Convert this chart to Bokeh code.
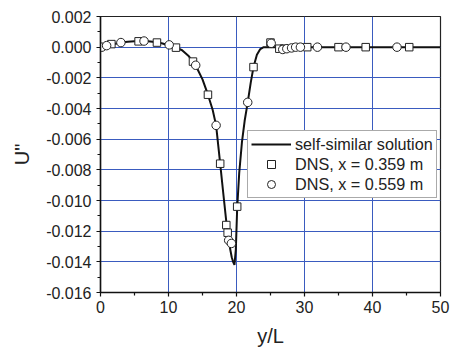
from bokeh.plotting import figure
from bokeh.models import Range1d, NumeralTickFormatter, FixedTicker, Legend, LegendItem
from bokeh.embed import file_html
from bokeh.resources import INLINE

# self-similar solution curve
sol_x = [0, 1, 2, 3, 4, 5, 6, 7, 8, 9, 10, 11, 12, 13, 14, 15, 15.8, 16.5, 17.0, 17.6, 18.0, 18.6,
         19.0, 19.3, 19.5, 19.7, 19.9, 20.1, 20.4, 20.8, 21.2, 21.65, 22.1, 22.5, 23.0, 23.5, 24.0,
         26.0, 30.0, 40.0, 50.0]
sol_y = [0.0, 0.0001, 0.0002, 0.0003, 0.00035, 0.00038, 0.0004, 0.00038, 0.00033, 0.00025, 0.00013,
         0.0, -0.0002, -0.0006, -0.0012, -0.0021, -0.0031, -0.0041, -0.0051, -0.0076, -0.0093, -0.0118,
         -0.0130, -0.0137, -0.0140, -0.0142, -0.0132, -0.0105, -0.0082, -0.0062, -0.0048, -0.0036,
         -0.0023, -0.0013, -0.0005, -0.00012, 0.0, 0.0, 0.0, 0.0, 0.0]

# DNS, x = 0.359 m (squares)
sq_x = [1.6, 5.6, 8.3, 11.1, 13.6, 15.8, 17.6, 18.5, 18.7, 20.1, 22.5, 25.0, 26.3, 27.0, 30.4, 35.0, 39.0, 45.4]
sq_y = [0.0002, 0.00038, 0.0003, -0.00003, -0.00094, -0.0031, -0.0076, -0.0116, -0.0121, -0.0104,
        -0.0013, 0.0003, -0.0001, -0.0001, 0.0, 0.0, 0.0, 0.0]

# DNS, x = 0.559 m (circles)
ci_x = [0.2, 0.9, 3.0, 6.4, 10.1, 14.0, 17.0, 18.85, 19.25, 21.65, 25.1, 26.8, 27.4, 28.1, 28.7, 29.4, 31.9, 36.1, 43.6]
ci_y = [0.0, 0.0001, 0.0003, 0.0004, 0.00015, -0.00118, -0.0051, -0.0126, -0.0128, -0.0036, 0.00025,
        -0.00015, -0.0001, -0.00005, 0.0, 0.0, 0.0, 0.0, 0.0]

x_ticks = [0, 10, 20, 30, 40, 50]
y_ticks = [0.002, 0.0, -0.002, -0.004, -0.006, -0.008, -0.010, -0.012, -0.014, -0.016]

FONT = "Liberation Sans"
GRID = "#3a5bbf"

p = figure(width=451, height=354, output_backend="svg", toolbar_location=None,
           x_range=Range1d(0, 50), y_range=Range1d(-0.016, 0.002),
           min_border_left=100, min_border_right=11, min_border_top=16, min_border_bottom=62)
p.background_fill_color = "white"
p.border_fill_color = "white"
p.outline_line_color = "#222222"
p.outline_line_width = 1.2

p.xaxis.ticker = FixedTicker(ticks=x_ticks, minor_ticks=[5, 15, 25, 35, 45])
p.yaxis.ticker = FixedTicker(ticks=y_ticks,
                             minor_ticks=[0.001, -0.001, -0.003, -0.005, -0.007, -0.009, -0.011, -0.013, -0.015])
p.yaxis.formatter = NumeralTickFormatter(format="0.000")

for ax in (p.xaxis, p.yaxis):
    ax.axis_line_color = "#111111"
    ax.axis_line_width = 1.5
    ax.major_tick_line_color = "#111111"
    ax.minor_tick_line_color = "#111111"
    ax.major_tick_line_width = 1.2
    ax.minor_tick_line_width = 1.2
    ax.major_tick_in = 0
    ax.major_tick_out = 4
    ax.minor_tick_in = 0
    ax.minor_tick_out = 3
    ax.major_label_text_font = FONT
    ax.major_label_text_font_size = "16px"
    ax.major_label_text_color = "#222222"
    ax.axis_label_text_font = FONT
    ax.axis_label_text_font_size = "20px"
    ax.axis_label_text_font_style = "normal"
    ax.axis_label_text_color = "#222222"

p.xaxis.major_label_standoff = 4
p.yaxis.major_label_standoff = 5
p.xaxis.axis_label = "y/L"
p.yaxis.axis_label = 'U"'
p.xaxis.axis_label_standoff = 9
p.yaxis.axis_label_standoff = 10

p.xgrid.ticker = FixedTicker(ticks=[10, 20, 30, 40])
p.ygrid.ticker = FixedTicker(ticks=y_ticks[1:-1])
p.grid.grid_line_color = GRID
p.grid.grid_line_width = 1
p.grid.grid_line_alpha = 1.0

r_line = p.line(sol_x, sol_y, line_color="#111111", line_width=2)
r_sq = p.scatter(sq_x, sq_y, marker="square", size=7.5, fill_color="white", line_color="#222222", line_width=1)
r_ci = p.scatter(ci_x, ci_y, marker="circle", size=8.5, fill_color="white", line_color="#222222", line_width=1)

legend = Legend(items=[LegendItem(label="self-similar solution", renderers=[r_line]),
                       LegendItem(label="DNS, x = 0.359 m", renderers=[r_sq]),
                       LegendItem(label="DNS, x = 0.559 m", renderers=[r_ci])],
                location=(147, 94), padding=3, spacing=0, margin=0,
                glyph_width=40, glyph_height=20, label_height=20, label_standoff=4,
                label_text_font=FONT, label_text_font_size="16.2px", label_text_color="#222222",
                border_line_color="#555555", border_line_width=1.5,
                background_fill_color="white", background_fill_alpha=1.0)
p.add_layout(legend, "center")

open("out.html", "w").write(file_html(p, INLINE))
